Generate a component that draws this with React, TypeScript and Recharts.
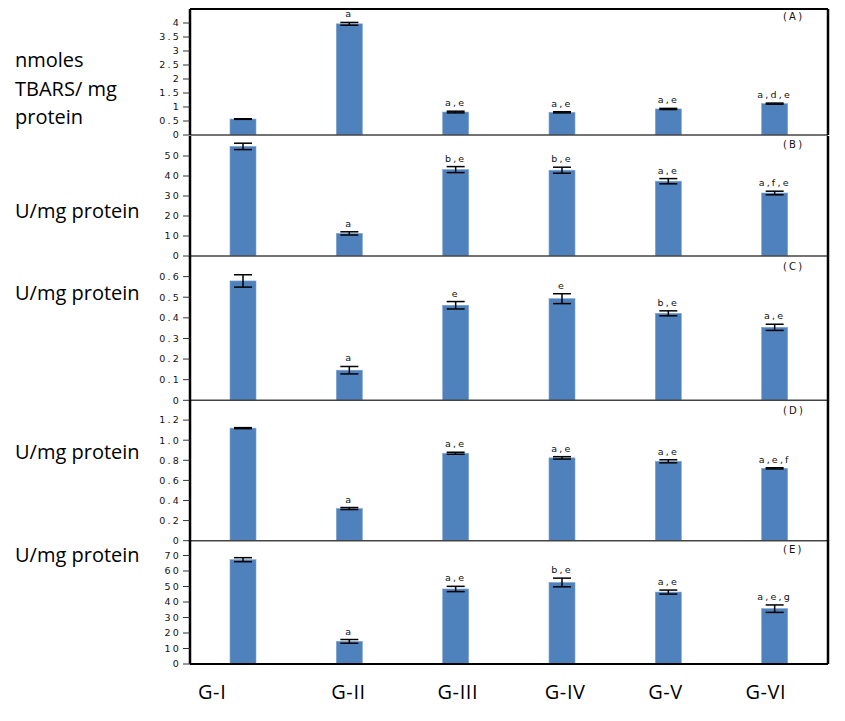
import React from "react";
import { BarChart, Bar, XAxis, YAxis, ErrorBar } from "recharts";

const groups = ["G-I", "G-II", "G-III", "G-IV", "G-V", "G-VI"];

const tbarsValues = [0.57, 3.97, 0.82, 0.81, 0.93, 1.12];
const tbarsErrors = [0.01, 0.05, 0.03, 0.02, 0.02, 0.02];
const tbarsSig = ["", "a", "a,e", "a,e", "a,e", "a,d,e"];
const tbarsTicks = [0, 0.5, 1, 1.5, 2, 2.5, 3, 3.5, 4];

const bValues = [54.8, 11.3, 43.2, 42.9, 37.4, 31.5];
const bErrors = [1.6, 0.8, 1.5, 1.5, 1.3, 0.9];
const bSig = ["", "a", "b,e", "b,e", "a,e", "a,f,e"];
const bTicks = [0, 10, 20, 30, 40, 50];

const cValues = [0.579, 0.146, 0.461, 0.493, 0.422, 0.354];
const cErrors = [0.03, 0.018, 0.018, 0.024, 0.012, 0.015];
const cSig = ["", "a", "e", "e", "b,e", "a,e"];
const cTicks = [0, 0.1, 0.2, 0.3, 0.4, 0.5, 0.6];

const dValues = [1.12, 0.32, 0.87, 0.824, 0.79, 0.72];
const dErrors = [0.005, 0.01, 0.01, 0.012, 0.015, 0.006];
const dSig = ["", "a", "a,e", "a,e", "a,e", "a,e,f"];
const dTicks = [0, 0.2, 0.4, 0.6, 0.8, 1.0, 1.2];

const eValues = [67.3, 14.6, 48.4, 52.6, 46.4, 35.7];
const eErrors = [1.3, 1.2, 1.7, 2.8, 1.3, 2.4];
const eSig = ["", "a", "a,e", "b,e", "a,e", "a,e,g"];
const eTicks = [0, 10, 20, 30, 40, 50, 60, 70];

const panelLetters = ["(A)", "(B)", "(C)", "(D)", "(E)"];
const yTitles = [["nmoles", "TBARS/ mg", "protein"], ["U/mg protein"], ["U/mg protein"], ["U/mg protein"], ["U/mg protein"]];

const build = (vals: number[], errs: number[], sig: string[]) =>
  groups.map((g, i) => ({ group: g, value: vals[i], err: errs[i], sig: sig[i] }));

const fmt = (decimals: number) => (v: number) => (v === 0 ? "0" : decimals > 0 ? v.toFixed(decimals) : String(v));

// layout (pixel) settings
const panels = [
  { data: build(tbarsValues, tbarsErrors, tbarsSig), ticks: tbarsTicks, max: 4.5, fmt: (v: number) => String(v), top: 9, bottom: 135, letterY: 20, titleY: [67, 96, 124] },
  { data: build(bValues, bErrors, bSig), ticks: bTicks, max: 60, fmt: fmt(0), top: 135.7, bottom: 255.7, letterY: 148, titleY: [218] },
  { data: build(cValues, cErrors, cSig), ticks: cTicks, max: 0.7, fmt: fmt(1), top: 256, bottom: 400.3, letterY: 270, titleY: [300] },
  { data: build(dValues, dErrors, dSig), ticks: dTicks, max: 1.4, fmt: fmt(1), top: 400, bottom: 540.7, letterY: 414, titleY: [459] },
  { data: build(eValues, eErrors, eSig), ticks: eTicks, max: 80, fmt: fmt(0), top: 540.3, bottom: 664.3, letterY: 553, titleY: [562] },
];
const groupLabelOffsets = [-31, -1, 2, 3, -3, -9];

const BLUE = "#4f81bd";
const smallFont = { fontFamily: "DejaVu Sans", fontSize: 9.5, letterSpacing: 2.2 };

const BarShape = (props: any) => {
  const { x, y, width, height, payload } = props;
  const ppu = payload.value ? height / payload.value : 0;
  const errTop = y - payload.err * ppu;
  return (
    <g>
      <rect x={x} y={y} width={width} height={height} fill={BLUE} stroke="#7fa3cf" strokeWidth={0.6} />
      {payload.sig ? (
        <text x={x + width / 2} y={errTop - 5} textAnchor="middle" fill="#111" {...smallFont}>
          {payload.sig}
        </text>
      ) : null}
    </g>
  );
};

const GroupTick = (props: any) => {
  const { x, y, payload, index } = props;
  return (
    <text x={x + groupLabelOffsets[index]} y={y + 35} textAnchor="middle" fill="#000" fontFamily="Open Sans" fontSize={20} letterSpacing={0.6}>
      {payload.value}
    </text>
  );
};

const M_TOP = 10;

export default function App() {
  return (
    <div style={{ position: "absolute", left: 0, top: 0, width: 845, height: 721, background: "#fff", overflow: "hidden" }}>
      {panels.map((p, i) => {
        const last = i === panels.length - 1;
        const first = i === 0;
        const mBottom = last ? 50 : 10;
        const h = p.bottom - p.top + M_TOP + mBottom;
        return (
          <div key={i} style={{ position: "absolute", left: 0, top: p.top - M_TOP }}>
            <BarChart
              width={845}
              height={h}
              data={p.data}
              margin={{ top: first ? M_TOP - 1 : M_TOP, right: 16, bottom: mBottom - 1, left: 140 }}
              barCategoryGap="0%"
            >
              <XAxis
                dataKey="group"
                height={1}
                axisLine={{ stroke: last ? "#000" : "#444", strokeWidth: last ? 2 : 1.5 }}
                tickLine={false}
                tickSize={0}
                tickMargin={0}
                tick={last ? <GroupTick /> : false}
                interval={0}
              />
              {first ? (
                <XAxis xAxisId="top" dataKey="group" orientation="top" height={1} axisLine={{ stroke: "#000", strokeWidth: 2 }} tick={false} tickLine={false} />
              ) : null}
              <YAxis
                yAxisId="left"
                width={50}
                domain={[0, p.max]}
                ticks={p.ticks}
                tickFormatter={p.fmt}
                allowDataOverflow
                axisLine={{ stroke: "#000", strokeWidth: 2.5 }}
                tickLine={{ stroke: "#333" }}
                tickSize={7}
                tickMargin={2}
                tick={{ fill: "#111", ...smallFont }}
                interval={0}
              />
              <YAxis yAxisId="right" orientation="right" width={1} domain={[0, p.max]} tick={false} tickLine={false} axisLine={{ stroke: "#000", strokeWidth: 2.5 }} />
              <Bar yAxisId="left" dataKey="value" barSize={26} isAnimationActive={false} shape={<BarShape />}>
                <ErrorBar dataKey="err" width={9} stroke="#000" strokeWidth={1.5} />
              </Bar>
            </BarChart>
          </div>
        );
      })}
      <svg width={845} height={721} style={{ position: "absolute", left: 0, top: 0, pointerEvents: "none" }}>
        {panels.map((p, i) => (
          <g key={i}>
            <text x={783} y={p.letterY} fill="#111" {...smallFont} fontSize={10}>
              {panelLetters[i]}
            </text>
            {yTitles[i].map((t, j) => (
              <text key={j} x={15} y={p.titleY[j]} fill="#000" fontFamily="Open Sans" fontSize={20}>
                {t}
              </text>
            ))}
          </g>
        ))}
      </svg>
    </div>
  );
}
